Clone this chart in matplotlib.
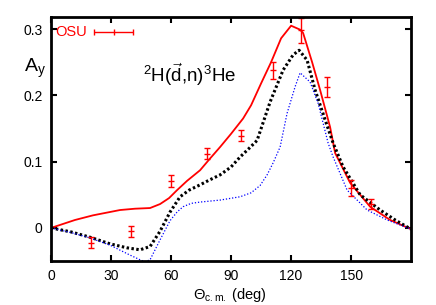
import matplotlib
matplotlib.use("Agg")
import matplotlib.pyplot as plt
import numpy as np

plt.rcParams['font.family'] = ['Liberation Sans', 'DejaVu Sans']
plt.rcParams['mathtext.fontset'] = 'custom'
plt.rcParams['mathtext.rm'] = 'Liberation Sans'
plt.rcParams['mathtext.it'] = 'Liberation Sans'

# Experimental data (OSU)
osu_x = [20, 40, 60, 78, 95, 111, 125, 138, 150, 160]
osu_y = [-0.022, -0.005, 0.071, 0.112, 0.139, 0.238, 0.298, 0.213, 0.060, 0.036]
osu_err = [0.008, 0.008, 0.009, 0.008, 0.008, 0.013, 0.019, 0.015, 0.012, 0.008]

# Red solid curve
red_x = [0, 12, 21, 34.5, 42, 49.5, 54.5, 59, 63, 68, 74.5, 79, 84.5, 90, 96, 100, 105, 110,
         115, 120, 124.5, 126, 130.5, 134.5, 139.5, 142, 149.5, 159.5, 169.5, 180]
red_y = [0.0, 0.012, 0.019, 0.027, 0.029, 0.030, 0.036, 0.045, 0.057, 0.071, 0.087,
         0.103, 0.122, 0.142, 0.165, 0.185, 0.218, 0.250, 0.286, 0.305, 0.299, 0.294, 0.250,
         0.208, 0.152, 0.113, 0.068, 0.032, 0.012, -0.002]

# Black dotted curve
blk_x = [0, 10, 19.5, 29.5, 38, 44.5, 49.5, 54.5, 59.5, 64.5, 69, 74.5, 79, 84.5, 90, 94.5, 99,
         103, 109.5, 116, 121, 124, 128, 132, 137, 141, 146, 154.5, 164.5, 172, 180]
blk_y = [0.0, -0.006, -0.014, -0.024, -0.030, -0.033, -0.028, -0.005, 0.024, 0.047, 0.057,
         0.065, 0.072, 0.080, 0.092, 0.107, 0.120, 0.132, 0.190, 0.238, 0.261, 0.268, 0.253,
         0.208, 0.163, 0.128, 0.092, 0.050, 0.027, 0.012, -0.002]

# Blue dotted curve
blu_x = [0, 10, 19.5, 29.5, 39.5, 44.5, 47, 49.5, 54.5, 59.5, 63, 66, 70, 74.5, 84.5, 94.5, 100,
         104.5, 108, 111, 114.5, 118, 122, 124.5, 129.5, 133.5, 138.5, 141, 148, 158, 168, 180]
blu_y = [0.0, -0.007, -0.015, -0.026, -0.041, -0.048, -0.051, -0.048, -0.018, 0.011, 0.024,
         0.032, 0.037, 0.039, 0.042, 0.047, 0.053, 0.064, 0.080, 0.098, 0.122, 0.173, 0.213,
         0.234, 0.220, 0.188, 0.128, 0.107, 0.057, 0.027, 0.012, -0.002]

x_ticks = [0, 30, 60, 90, 120, 150]
y_ticks = [0, 0.1, 0.2, 0.3]
y_tick_labels = ['0', '0.1', '0.2', '0.3']

fig = plt.figure(figsize=(4.36, 3.05), dpi=100)
ax = fig.add_axes([0.117, 0.144, 0.826, 0.800])

ax.plot(red_x, red_y, color='#ff0000', lw=1.3, solid_joinstyle='round')
ax.plot(blk_x, blk_y, color='black', lw=2.2, linestyle=(0, (0.8, 0.8)))
ax.plot(blu_x, blu_y, color='#0000ff', lw=0.9, linestyle=(0, (1, 1.5)))
ax.errorbar(osu_x, osu_y, yerr=osu_err, fmt='none', ecolor='#ff0000',
            elinewidth=1.0, capsize=2.2, capthick=1.0)
ax.plot(osu_x, osu_y, linestyle='none', marker='_', color='#ff0000', ms=4, mew=1.0)

ax.set_xlim(0, 180)
ax.set_ylim(-0.05, 0.318)
ax.set_xticks(x_ticks)
ax.set_yticks(y_ticks)
ax.set_yticklabels(y_tick_labels)
ax.tick_params(direction='in', length=4, width=1.5, top=True, right=True, labelsize=10, pad=6)
for s in ax.spines.values():
    s.set_linewidth(2)

fig.text(0.528, 0.004, r'$\Theta_{\rm c.m.}$ (deg)', fontsize=10.5, ha='center', va='bottom')
fig.text(0.055, 0.775, r'A$_{\rm y}$', fontsize=14, ha='left', va='center')
ax.text(46, 0.232, r'$^{2}$H($\vec{\rm d}$,n)$^{3}$He', fontsize=13.5, ha='left', va='center')

# Legend (gnuplot style)
ax.text(0.012, 0.937, 'OSU', color='#ff0000', fontsize=10.5, ha='left', va='center',
        transform=ax.transAxes)
ax.errorbar([0.174], [0.937], xerr=[0.054], fmt='none', ecolor='#ff0000', elinewidth=1.0,
            capsize=2, capthick=1.0, transform=ax.transAxes, clip_on=False)
ax.plot([0.174], [0.937], marker='|', color='#ff0000', ms=4, mew=1.0, transform=ax.transAxes)

fig.savefig('out.png', dpi=100)
